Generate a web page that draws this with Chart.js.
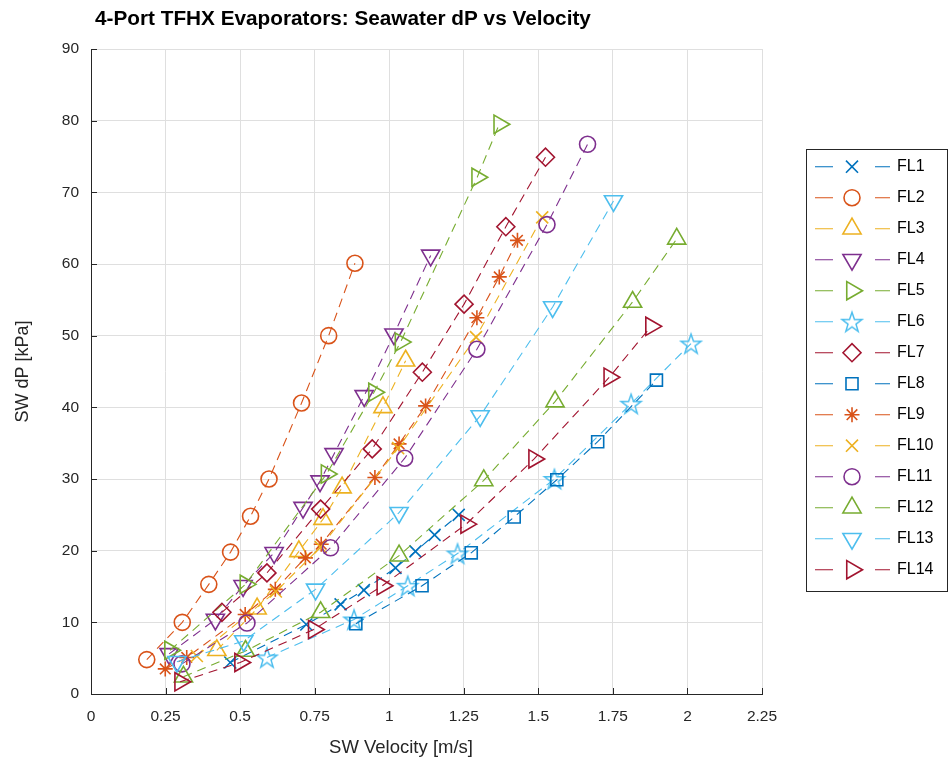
<!DOCTYPE html>
<html><head><meta charset="utf-8">
<script src="https://cdn.jsdelivr.net/npm/chart.js@4.4.1/dist/chart.umd.min.js"></script>
<style>html,body{margin:0;padding:0;background:#fff}#wrap{width:950px;height:763px;position:relative}</style>
</head><body><div id="wrap"><canvas id="c" width="950" height="763"></canvas></div>
<script>
// ---- data ----
const seriesNames = ['FL1','FL2','FL3','FL4','FL5','FL6','FL7','FL8','FL9','FL10','FL11','FL12','FL13','FL14'];
const FL1_v  = [0.467,0.722,0.837,0.915,1.021,1.088,1.152,1.233];
const FL1_dp = [4.4,9.7,12.5,14.5,17.6,19.9,22.2,25.0];
const FL2_v  = [0.187,0.306,0.395,0.468,0.535,0.597,0.706,0.797,0.885];
const FL2_dp = [4.8,10.0,15.3,19.8,24.8,30.0,40.6,50.0,60.1];
const FL3_v  = [0.422,0.557,0.697,0.778,0.842,0.979,1.055];
const FL3_dp = [6.1,11.9,19.9,24.4,28.8,40.0,46.5];
const FL4_v  = [0.262,0.417,0.510,0.614,0.711,0.768,0.815,0.916,1.016,1.139];
const FL4_dp = [5.6,10.4,15.1,19.7,26.0,29.7,33.5,41.6,50.2,61.2];
const FL5_v  = [0.265,0.518,0.790,0.949,1.038,1.295,1.369];
const FL5_dp = [6.1,15.3,30.7,42.1,49.1,72.1,79.5];
const FL6_v  = [0.590,0.882,1.062,1.229,1.554,1.811,2.012];
const FL6_dp = [5.1,10.4,15.1,19.6,30.0,40.5,48.9];
const FL7_v  = [0.439,0.590,0.770,0.943,1.111,1.251,1.391,1.524];
const FL7_dp = [11.4,16.9,25.8,34.2,44.9,54.4,65.2,74.9];
const FL8_v  = [0.888,1.110,1.275,1.419,1.562,1.699,1.896];
const FL8_dp = [9.8,15.1,19.7,24.7,29.9,35.2,43.8];
const FL9_v  = [0.249,0.321,0.517,0.618,0.719,0.772,0.952,1.033,1.122,1.294,1.369,1.430];
const FL9_dp = [3.5,5.1,11.1,14.6,19.0,20.9,30.2,34.9,40.2,52.5,58.2,63.3];
const FL10_v  = [0.355,0.620,0.770,1.030,1.291,1.513];
const FL10_dp = [5.3,14.3,20.5,34.3,49.8,66.5];
const FL11_v  = [0.305,0.523,0.803,1.052,1.294,1.529,1.665];
const FL11_dp = [4.2,9.9,20.4,32.9,48.1,65.5,76.7];
const FL12_v  = [0.310,0.518,0.770,1.033,1.317,1.556,1.816,1.964];
const FL12_dp = [2.4,6.0,11.4,19.3,29.8,40.8,54.7,63.5];
const FL13_v  = [0.288,0.512,0.753,1.033,1.305,1.548,1.752];
const FL13_dp = [4.5,7.4,14.6,25.3,38.8,54.0,68.8];
const FL14_v  = [0.299,0.500,0.747,0.977,1.258,1.486,1.738,1.878];
const FL14_dp = [1.7,4.4,9.0,15.1,23.7,32.8,44.2,51.3];
const xTicks = [0,0.25,0.5,0.75,1,1.25,1.5,1.75,2,2.25];
const xTickLabels = ['0','0.25','0.5','0.75','1','1.25','1.5','1.75','2','2.25'];
const yTicks = [0,10,20,30,40,50,60,70,80,90];
const yTickLabels = ['0','10','20','30','40','50','60','70','80','90'];

const allV  = [FL1_v,FL2_v,FL3_v,FL4_v,FL5_v,FL6_v,FL7_v,FL8_v,FL9_v,FL10_v,FL11_v,FL12_v,FL13_v,FL14_v];
const allDp = [FL1_dp,FL2_dp,FL3_dp,FL4_dp,FL5_dp,FL6_dp,FL7_dp,FL8_dp,FL9_dp,FL10_dp,FL11_dp,FL12_dp,FL13_dp,FL14_dp];

// ---- styles ----
function makePentagram(color, R, lw){
  const s = Math.ceil(2*R + lw*2 + 2);
  const c = document.createElement('canvas'); c.width = s; c.height = s;
  const g = c.getContext('2d'); g.strokeStyle = color; g.lineWidth = lw; g.lineJoin='miter';
  const cx = s/2, cy = s/2 + R*0.1, r = R*0.40;
  g.beginPath();
  for (let i=0;i<10;i++){
    const a = -Math.PI/2 + i*Math.PI/5, rr = (i%2)? r : R;
    const x = cx + rr*Math.cos(a), y = cy + rr*Math.sin(a);
    if (i) g.lineTo(x,y); else g.moveTo(x,y);
  }
  g.closePath(); g.stroke();
  return c;
}
const styles = [
  {c:'#0072BD', ps:'crossRot', r:8.5, rot:0},
  {c:'#D95319', ps:'circle',   r:8,   rot:0},
  {c:'#EDB120', ps:'triangle', r:10.5,rot:0},
  {c:'#7E2F8E', ps:'triangle', r:10.5,rot:180},
  {c:'#77AC30', ps:'triangle', r:10.5,rot:90},
  {c:'#4DBEEE', ps:makePentagram('#4DBEEE',10.5,1.5), r:10, rot:0},
  {c:'#A2142F', ps:'rectRot',  r:9,   rot:0},
  {c:'#0072BD', ps:'rect',     r:8.5, rot:0},
  {c:'#D95319', ps:'star',     r:7.5, rot:0},
  {c:'#EDB120', ps:'crossRot', r:8.5, rot:0},
  {c:'#7E2F8E', ps:'circle',   r:8,   rot:0},
  {c:'#77AC30', ps:'triangle', r:10.5,rot:0},
  {c:'#4DBEEE', ps:'triangle', r:10.5,rot:180},
  {c:'#A2142F', ps:'triangle', r:10.5,rot:90}
];

const FONT = 'Liberation Sans, Arial, Helvetica, sans-serif';
Chart.defaults.font.family = FONT;

const datasets = seriesNames.map((name,i)=>({
  label: name,
  data: allV[i].map((v,k)=>({x:v, y:allDp[i][k]})),
  borderColor: styles[i].c,
  backgroundColor: 'rgba(0,0,0,0)',
  borderWidth: 1.1,
  borderDash: [9,6],
  showLine: true,
  fill: false,
  tension: 0,
  pointStyle: styles[i].ps,
  pointRadius: styles[i].r,
  pointRotation: styles[i].rot,
  pointBorderColor: styles[i].c,
  pointBackgroundColor: 'rgba(0,0,0,0)',
  pointBorderWidth: 1.6,
  order: seriesNames.length - i
}));

function fitFont(ctx, text, weight, width){
  ctx.font = weight + ' 20px ' + FONT;
  const w = ctx.measureText(text).width;
  return 20 * width / w;
}

const decor = {
  id: 'decor',
  afterDraw(chart){
    const ctx = chart.ctx, ca = chart.chartArea;
    const xs = chart.scales.x, ys = chart.scales.y;
    ctx.save();
    // inward ticks
    ctx.strokeStyle = '#262626'; ctx.lineWidth = 1; ctx.setLineDash([]);
    ctx.beginPath();
    xTicks.forEach(v=>{ const px = Math.round(xs.getPixelForValue(v))+0.5; ctx.moveTo(px, ca.bottom); ctx.lineTo(px, ca.bottom-6); });
    yTicks.forEach(v=>{ const py = Math.round(ys.getPixelForValue(v))+0.5; ctx.moveTo(ca.left, py); ctx.lineTo(ca.left+6, py); });
    ctx.stroke();
    // title
    const title = '4-Port TFHX Evaporators: Seawater dP vs Velocity';
    const ts = Math.min(21, fitFont(ctx, title, 'bold', 496));
    ctx.fillStyle = '#000'; ctx.font = 'bold ' + ts.toFixed(2) + 'px ' + FONT;
    ctx.textAlign = 'left'; ctx.textBaseline = 'middle';
    ctx.fillText(title, 95, 19);
    // x axis title
    ctx.fillStyle = '#262626'; ctx.font = '18.5px ' + FONT; ctx.textAlign = 'center';
    ctx.fillText('SW Velocity [m/s]', 401, 748);
    // legend
    const bx = 806.5, by = 149.5, bw = 141, bh = 442;
    ctx.fillStyle = '#fff'; ctx.fillRect(bx, by, bw, bh);
    ctx.strokeStyle = '#262626'; ctx.lineWidth = 1; ctx.strokeRect(bx, by, bw, bh);
    ctx.font = '16px ' + FONT; ctx.textAlign = 'left'; ctx.textBaseline = 'middle';
    seriesNames.forEach((name,i)=>{
      const y = 166.7 + i*31.0, st = styles[i];
      ctx.strokeStyle = st.c; ctx.lineWidth = 1.1; ctx.setLineDash([]);
      ctx.beginPath(); ctx.moveTo(815, y); ctx.lineTo(833, y); ctx.moveTo(875, y); ctx.lineTo(890, y); ctx.stroke();
      ctx.lineWidth = 1.6; ctx.fillStyle = 'rgba(0,0,0,0)';
      Chart.helpers.drawPoint(ctx, {pointStyle: st.ps, rotation: st.rot, radius: st.r, borderWidth: 1.6}, 852, y);
      ctx.fillStyle = '#000';
      ctx.fillText(name, 897, y);
    });
    ctx.restore();
  }
};

new Chart(document.getElementById('c'), {
  type: 'scatter',
  data: { datasets },
  options: {
    responsive: false,
    devicePixelRatio: 1,
    animation: false,
    events: [],
    layout: { padding: { top: 49, right: 188, bottom: 0, left: 0 } },
    plugins: { legend: {display:false}, title: {display:false}, tooltip: {enabled:false} },
    scales: {
      x: {
        type: 'linear', min: 0, max: 2.25,
        afterBuildTicks: s => { s.ticks = xTicks.map(v=>({value:v})); },
        afterFit: s => { s.height = 69; },
        ticks: { font: {size: 15.5}, color: '#262626', padding: 13, maxRotation: 0, autoSkip: false,
                 callback: v => { const k = xTicks.indexOf(v); return k >= 0 ? xTickLabels[k] : ''; } },
        grid: { color: '#dfdfdf', drawTicks: false },
        border: { color: '#262626', width: 1 }
      },
      y: {
        type: 'linear', min: 0, max: 90,
        afterBuildTicks: s => { s.ticks = yTicks.map(v=>({value:v})); },
        afterFit: s => { s.width = 91; },
        ticks: { font: {size: 15.5}, color: '#262626', padding: 12, autoSkip: false,
                 callback: v => { const k = yTicks.indexOf(v); return k >= 0 ? yTickLabels[k] : ''; } },
        grid: { color: '#dfdfdf', drawTicks: false },
        border: { color: '#262626', width: 1 },
        title: { display: true, text: 'SW dP [kPa]', font: {size: 18}, color: '#262626', padding: {top: 12, bottom: 0} }
      }
    }
  },
  plugins: [decor]
});
</script></body></html>
